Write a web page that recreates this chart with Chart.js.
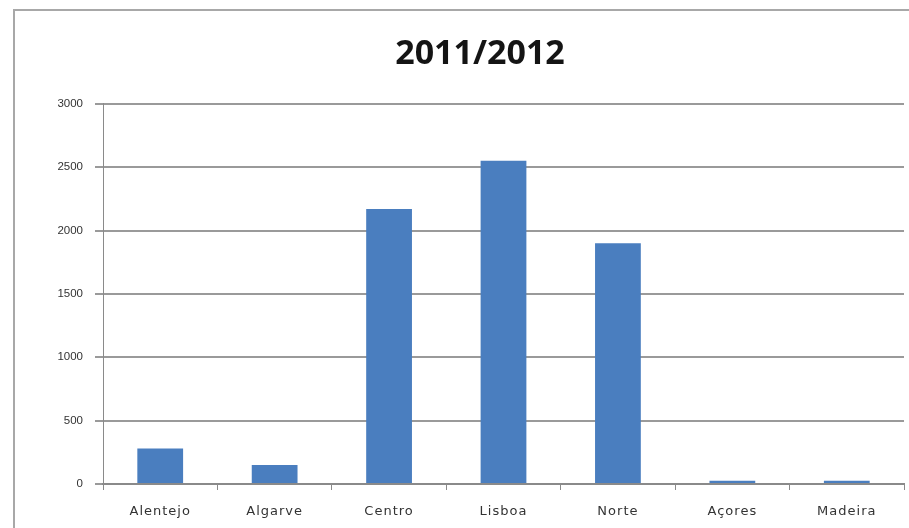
<!DOCTYPE html>
<html>
<head>
<meta charset="utf-8">
<script src="https://cdn.jsdelivr.net/npm/chart.js@4/dist/chart.umd.min.js"></script>
<style>
  body { margin: 0; background: #fff; overflow: hidden; }
  #frame {
    position: absolute; left: 13px; top: 9px;
    width: 1000px; height: 600px;
    border: 2px solid #a8a8a8; box-sizing: border-box;
  }
  #chart { position: absolute; left: 0; top: 0; }
</style>
</head>
<body>
<div id="frame">
  <canvas id="chart" width="930" height="517"></canvas>
</div>
<script>
const regions = ["Alentejo", "Algarve", "Centro", "Lisboa", "Norte", "Açores", "Madeira"];
const values = [280, 150, 2170, 2550, 1900, 25, 25];
const yTicks = [0, 500, 1000, 1500, 2000, 2500, 3000];
const title = "2011/2012";

const canvas = document.getElementById("chart");

// wider letter spacing for the category labels, like the source picture
function spacedLabels(scale) {
  if (scale._spaced) return;
  scale._spaced = true;
  const orig = scale.drawLabels;
  scale.drawLabels = function (area) {
    const ctx = this.ctx;
    ctx.save();
    ctx.letterSpacing = '1px';
    orig.call(this, area);
    ctx.restore();
  };
}

new Chart(canvas, {
  type: 'bar',
  data: {
    labels: regions,
    datasets: [{
      data: values,
      backgroundColor: '#4a7ebf',
      barPercentage: 0.4,
      categoryPercentage: 1
    }]
  },
  options: {
    responsive: false,
    animation: false,
    // title is centred on the full (cut off) chart, so pad both sides equally
    layout: { padding: { left: 41, right: 41, top: 0, bottom: 0 } },
    plugins: {
      legend: { display: false },
      tooltip: { enabled: false },
      title: {
        display: true,
        text: title,
        color: '#141414',
        font: { family: "'Open Sans', sans-serif", size: 34, weight: 'bold' },
        padding: { top: 23, bottom: 29 }
      }
    },
    scales: {
      x: {
        grid: {
          offset: true,
          drawOnChartArea: false,
          drawTicks: true,
          tickLength: 6,
          color: '#8a8a8a'
        },
        border: { display: true, color: '#8a8a8a', width: 2 },
        ticks: {
          color: '#333',
          padding: 14,
          font: { family: "'DejaVu Sans', sans-serif", size: 13 }
        },
        afterFit: scale => { scale.height = 44; spacedLabels(scale); }
      },
      y: {
        min: 0,
        max: 3000,
        afterBuildTicks: scale => { scale.ticks = yTicks.map(v => ({ value: v })); },
        grid: {
          color: '#9a9a9a',
          lineWidth: 2,
          tickLength: 8
        },
        border: { display: true, color: '#8a8a8a', width: 1 },
        ticks: {
          color: '#333',
          padding: 12,
          font: { family: "'Liberation Sans', sans-serif", size: 11.5 },
          callback: v => String(v)
        },
        afterFit: scale => { scale.width = 47; }
      }
    }
  }
});
</script>
</body>
</html>
